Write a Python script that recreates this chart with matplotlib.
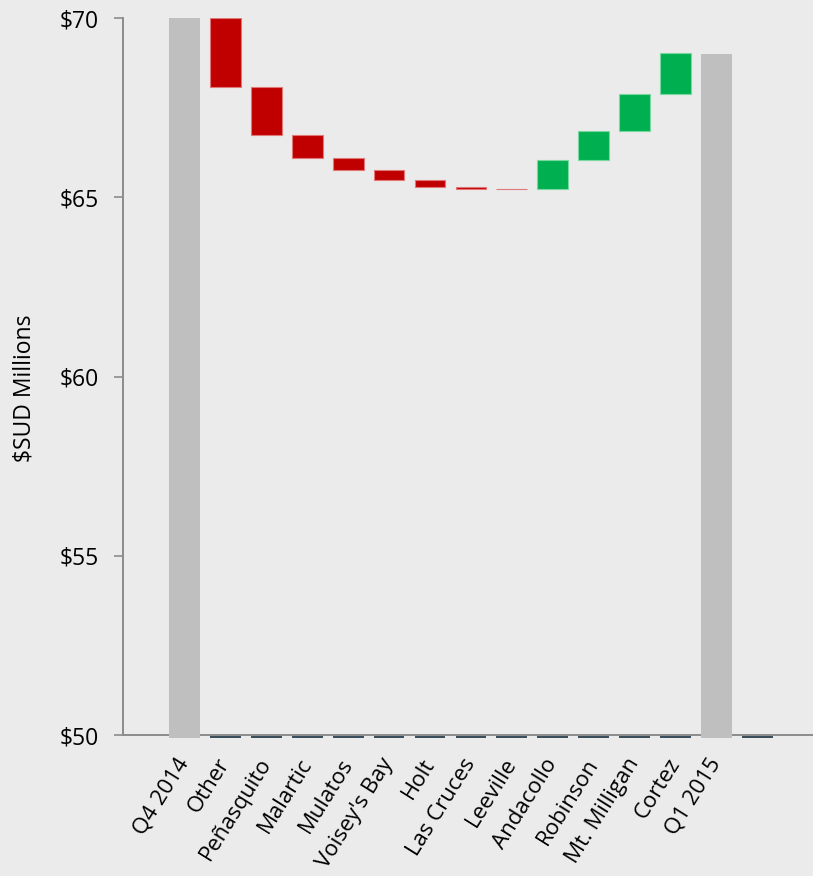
import matplotlib.pyplot as plt

plt.rcParams['font.family'] = ['Open Sans', 'DejaVu Sans']

labels = ["Q4 2014", "Other", "Peñasquito", "Malartic", "Mulatos", "Voisey's Bay",
          "Holt", "Las Cruces", "Leeville", "Andacollo", "Robinson", "Mt. Milligan",
          "Cortez", "Q1 2015", ""]
start_total = 70.0
changes = [-1.91, -1.34, -0.64, -0.35, -0.27, -0.20, -0.05, -0.01,
           0.82, 0.81, 1.03, 1.14]
end_total = 69.0

fig = plt.figure(figsize=(8.13, 8.76), dpi=100, facecolor="#ebebeb")
ax = fig.add_axes([123 / 813, 141 / 876, 690 / 813, 716.7 / 876])
ax.set_facecolor("none")

w = 0.75
# totals
ax.bar(0, start_total - 49.93, bottom=49.93, width=w, color="#bfbfbf", zorder=3, clip_on=False)
ax.bar(13, end_total - 49.93, bottom=49.93, width=w, color="#bfbfbf", zorder=3, clip_on=False)

# floating steps
level = start_total
for i, c in enumerate(changes):
    x = i + 1
    new = level + c
    if c < 0:
        col, edge = "#c00000", "#e07878"
    else:
        col, edge = "#00b050", "#78d8a0"
    ax.bar(x, abs(c), bottom=min(level, new), width=w, color=col,
           edgecolor=edge, linewidth=0.8, zorder=3)
    level = new

# little dark markers at the base of every non-total slot
for x in range(len(labels)):
    if x in (0, 13):
        continue
    ax.bar(x, 0.05, bottom=49.93, width=w, color="#3b4e5c", zorder=4, clip_on=False)

ax.set_ylim(50, 70)
ax.set_xlim(-1.503, 15.36)
ax.set_yticks([50, 55, 60, 65, 70])
ax.set_yticklabels(["$50", "$55", "$60", "$65", "$70"])
ax.set_xticks(range(len(labels)))
ax.set_xticklabels(labels, rotation=58, ha="right", va="center",
                   rotation_mode="anchor", fontsize=16)
ax.tick_params(axis="y", length=6.5, width=1.2, color="#8c8c8c", labelsize=16.5, pad=11)
ax.tick_params(axis="x", length=0, pad=18)
ax.set_ylabel("$SUD Millions", fontsize=16.5)
ax.yaxis.set_label_coords(-0.126, 0.484)

for s in ["top", "right"]:
    ax.spines[s].set_visible(False)
for s in ["left", "bottom"]:
    ax.spines[s].set_color("#8c8c8c")
    ax.spines[s].set_linewidth(1.4)

fig.savefig("out.png", dpi=100, facecolor=fig.get_facecolor())
